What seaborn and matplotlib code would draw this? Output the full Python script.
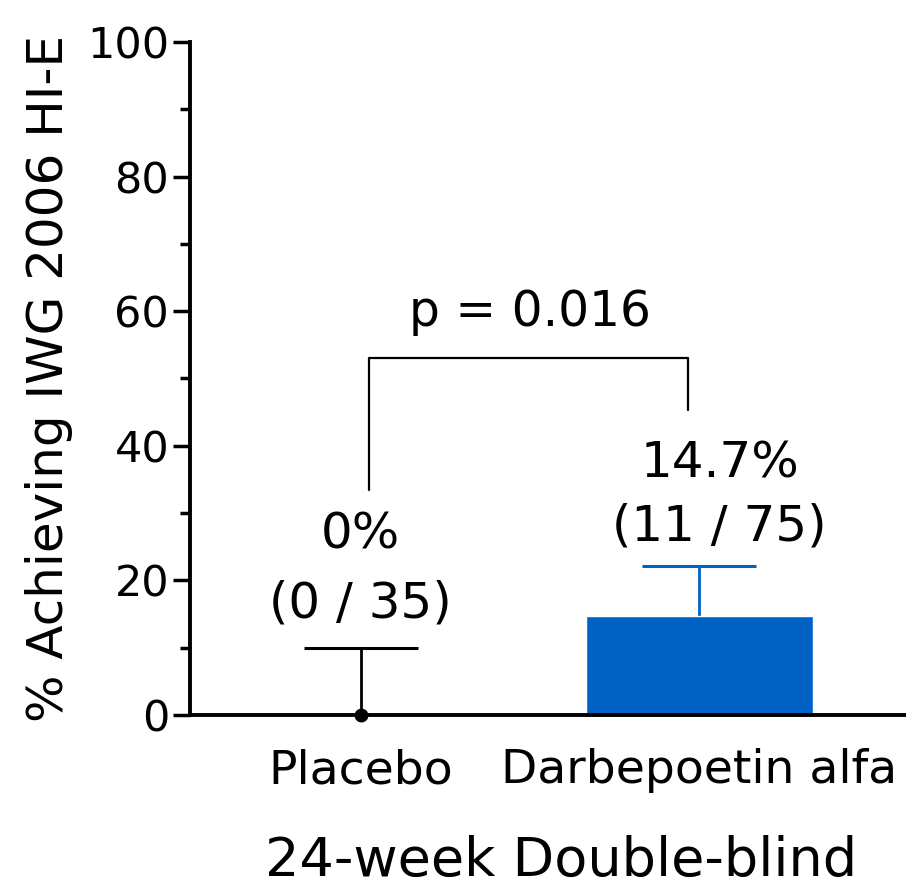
import numpy as np
import pandas as pd
import matplotlib
matplotlib.use("Agg")
import matplotlib.pyplot as plt
import seaborn as sns

# data
groups = ["Placebo", "Darbepoetin alfa"]
pct = [0.0, 14.7]
upper_ci = [10.0, 22.2]
pct_labels = ["0%\n(0 / 35)", "14.7%\n(11 / 75)"]
bar_colors = ["#000000", "#0062C4"]
p_text = "p = 0.016"

df = pd.DataFrame({"group": groups, "pct": pct})

sns.set_style("ticks")
plt.rcParams['font.family'] = ['DejaVu Sans']
plt.rcParams['text.color'] = 'black'
plt.rcParams['axes.labelcolor'] = 'black'
plt.rcParams['xtick.color'] = 'black'
plt.rcParams['ytick.color'] = 'black'
plt.rcParams['axes.edgecolor'] = 'black'

fig = plt.figure(figsize=(9.06, 8.91), dpi=100)
ax = fig.add_axes([0.2097, 0.1975, 0.79, 0.7554])

sns.barplot(data=df, x="group", y="pct", hue="group", palette=bar_colors,
            legend=False, width=0.67, saturation=1, ax=ax, errorbar=None)

# error bars (upper only), kept behind the bars
for i in range(len(groups)):
    eb = ax.errorbar(i, pct[i], yerr=[[0], [upper_ci[i] - pct[i]]], fmt="none",
                     ecolor=bar_colors[i], elinewidth=2, capsize=41,
                     capthick=2.2, zorder=0.5)
    for cap in eb[1]:
        if np.allclose(cap.get_ydata(), pct[i]):
            cap.set_visible(False)
# placebo point at zero
ax.plot(0, pct[0], "o", color="black", markersize=9, clip_on=False, zorder=5)

# value labels
ax.text(0.0, 13.0, pct_labels[0], ha="center", va="bottom",
        fontsize=36, linespacing=1.55)
ax.text(1.06, 24.4, pct_labels[1], ha="center", va="bottom",
        fontsize=36, linespacing=1.4)

# significance bracket
ax.plot([0.024, 0.024, 0.967, 0.967], [33.4, 53.0, 53.0, 45.3],
        color="black", linewidth=1.6)
ax.text(0.5, 56.3, p_text, ha="center", va="bottom", fontsize=35)

ax.set_xlim(-0.504, 1.61)
ax.set_ylim(0, 100)
ax.set_yticks([0, 20, 40, 60, 80, 100])
ax.set_yticks(np.arange(10, 100, 20), minor=True)
ax.tick_params(axis="y", which="major", length=12, width=2.5, labelsize=31, pad=3)
ax.tick_params(axis="y", which="minor", length=7, width=2.5)
ax.tick_params(axis="x", length=0, labelsize=34, pad=24)

ax.set_ylabel("% Achieving IWG 2006 HI-E", fontsize=36, labelpad=10)
ax.set_xlabel("24-week Double-blind", fontsize=39)
ax.xaxis.set_label_coords(0.518, -0.178)

sns.despine(ax=ax)
ax.spines["left"].set_linewidth(2.8)
ax.spines["bottom"].set_linewidth(2.8)

fig.savefig("out.png", dpi=100)
